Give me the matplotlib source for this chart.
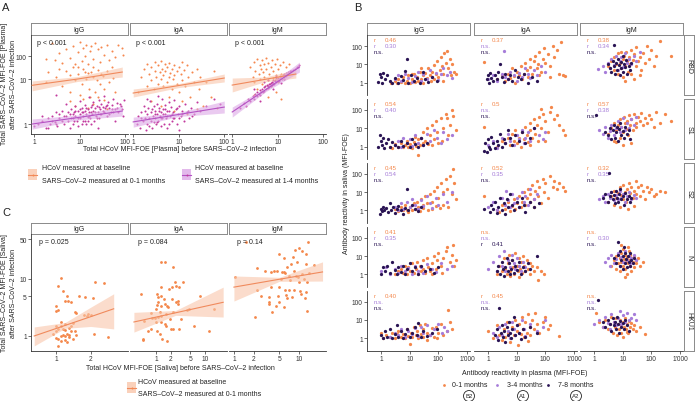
import numpy as np
import matplotlib
matplotlib.use("Agg")
import matplotlib.pyplot as plt
from matplotlib.patches import Rectangle

plt.rcParams['font.family'] = ['Liberation Sans', 'DejaVu Sans']

# ----------------------------------------------------------------- DATA
isotypes = ["IgG", "IgA", "IgM"]
antigens = ["RBD", "S1", "S2", "N", "HKU1"]

# Panel A (plasma): HCoV before (x) vs SARS-CoV-2 after (y)
A_IgG_01 = [(2.5,600),(2.8,60),(1.8,70),(3.5,150),(4,45),(5,250),(6,80),(7,400),(8,40),(9,180),(10,750),(11,55),(12,300),(13,100),(14,500),(15,40),(17,200),(18,400),(20,70),(22,600),(25,250),(28,50),(30,350),(35,120),(40,450),(45,60),(50,200),(60,90),(70,500),(85,300),(90,120),
            (3,12),(4,6),(5,20),(6,4),(7,28),(8,9),(9,15),(10,3.5),(12,25),(14,10),(16,5),(18,18),(20,12),(22,4),(25,22),(28,7),(30,15),(35,5),(40,20),(45,8),(50,30),(55,11),(60,4),(20,30),(15,16),(9,28),(6,14),(11,7),(13,18),(17,3),(24,9),(33,13),(3.5,25),(2,18),(1.8,8),
            (6,2.5),(8,2),(12,2.8),(15,1.8),(20,2.2),(25,3),(35,2.6),(40,1.7)]
A_IgG_14 = [(1.0,0.95),(1.2,1.0),(1.5,1.1),(1.8,0.9),(2,1.2),(2.2,1.0),(2.5,1.3),(2.8,1.05),(3,1.5),(3.2,0.95),(3.5,1.2),(4,1.1),(4,1.6),(4.5,1.0),(5,1.3),(5,2.2),(5.5,1.1),(6,1.4),(6,0.9),(6.5,1.7),(7,1.2),(7,1.0),(7.5,1.5),(8,1.3),(8,2.0),(8.5,1.1),(9,1.6),(9,0.95),(10,1.4),(10,1.2),(10,2.5),(11,1.0),(11,1.8),(12,1.3),(12,1.5),(13,1.1),(13,2.1),(14,1.4),(14,1.0),(15,1.7),(15,1.25),(16,1.5),(16,3.0),(17,1.2),(18,1.9),(18,1.0),(19,1.4),(20,1.6),(20,2.4),(21,1.1),(22,1.8),(23,1.3),(24,2.0),(25,1.5),(26,1.2),(27,2.6),(28,1.7),(30,1.4),(30,2.2),(32,1.9),(35,1.5),(35,3.2),(38,2.0),(40,1.3),(42,2.4),(45,1.8),(48,1.5),(50,2.1),(55,2.8),(60,1.7),(65,2.3),(70,1.5),(80,2.0),(90,1.3),(95,2.6),(3,3.5),(25,0.9),(60,1.1),
            (1.5,1.3),(2,0.9),(2.5,1.1),(3,1.0),(3.5,1.4),(4.5,1.3),(5.5,1.5),(6.5,1.2),(7,1.4),(7.5,1.1),(8,1.6),(9,1.2),(10,1.7),(11,1.5),(12,1.1),(13,1.6),(14,1.8),(15,1.1),(16,1.3),(18,1.5),(19,2.1),(22,1.5),(24,1.2),(26,1.9),(28,1.4),(32,1.6),(36,1.8),(40,2.1),(45,1.4),(50,1.7),(55,1.5),(65,1.8),(75,2.2),(85,1.7)]
A_IgA_01 = [(1.3,4),(1.5,12),(1.7,25),(2,6),(2,40),(2.2,15),(2.5,9),(2.5,30),(2.8,5),(3,20),(3,50),(3.2,12),(3.5,7),(3.5,35),(3.8,18),(4,10),(4,55),(4.2,25),(4.5,6),(4.5,14),(5,40),(5,20),(5.5,8),(5.5,30),(6,12),(6,45),(6.5,17),(7,5),(7,25),(7.5,10),(8,35),(8,14),(9,20),(9,7),(10,30),(10,4),(11,15),(12,50),(12,9),(13,22),(14,6),(15,35),(16,12),(18,3),(20,18),(22,8),(25,25),(28,5),(30,12),(35,2),(40,8),(50,3),(60,20),(70,1.8),(2.5,2.5),(4,2),(6,3),(8,1.6),(12,2.5),(15,1.4),(25,1.7)]
A_IgA_14 = [(1.2,1.0),(1.3,1.3),(1.4,0.9),(1.5,1.5),(1.6,1.1),(1.7,2.0),(1.8,1.2),(1.9,0.85),(2,1.4),(2,1.0),(2.1,1.8),(2.2,1.2),(2.3,2.5),(2.4,1.1),(2.5,1.5),(2.6,0.9),(2.7,1.3),(2.8,2.0),(2.9,1.05),(3,1.6),(3,1.2),(3.2,1.0),(3.3,2.2),(3.4,1.4),(3.5,1.1),(3.6,1.8),(3.8,1.3),(4,0.95),(4,1.5),(4.2,2.8),(4.4,1.2),(4.6,1.7),(4.8,1.0),(5,1.4),(5,2.1),(5.3,1.2),(5.6,1.6),(6,1.0),(6,2.4),(6.4,1.3),(6.8,1.9),(7,1.1),(7.5,1.5),(8,1.2),(8,2.6),(8.5,1.7),(9,1.0),(9.5,1.4),(10,2.0),(10,0.85),(11,1.3),(12,1.6),(13,1.1),(14,2.2),(15,1.5),(17,1.2),(19,1.8),(22,1.4),(25,2.4),(30,1.6),(40,2.0),(60,2.8),(80,2.2),(3.5,3.2),(5.5,0.9),(2,2.8),
            (1.5,1.2),(1.8,1.6),(2.2,0.95),(2.6,1.7),(3,1.4),(3.3,1.05),(3.7,1.6),(4.1,1.2),(4.5,1.4),(5,1.7),(5.5,1.3),(6,1.6),(7,1.4),(7.5,1.2),(9,1.8),(10,1.2),(12,1.4),(16,1.6),(20,1.3)]
A_IgM_01 = [(2.5,30),(2.8,12),(3,50),(3,8),(3.2,20),(3.5,70),(3.5,5),(3.8,15),(4,35),(4,10),(4.2,25),(4.5,60),(4.5,7),(4.8,18),(5,40),(5,12),(5.5,80),(5.5,25),(6,9),(6,45),(6.5,15),(7,30),(7,6),(7.5,60),(8,20),(8,11),(8.5,40),(9,14),(9.5,70),(10,25),(10,8),(11,35),(12,15),(13,50),(14,10),(15,30),(6,3),(9,4),(12,2.8),(3,3.5),(20,18),(18,40)]
A_IgM_14 = [(1.5,1.8),(1.8,2.3),(2,2.0),(2.2,2.8),(2.5,2.5),(2.8,3.2),(3,2.8),(3.2,3.6),(3.5,3.2),(3.5,4.2),(3.8,3.6),(4,4.5),(4,3.4),(4.3,4.0),(4.5,5.0),(4.7,4.2),(5,5.5),(5,4.3),(5.2,6.0),(5.5,5.0),(5.7,6.5),(6,5.2),(6,6.2),(6.3,7.0),(6.5,5.8),(6.8,6.8),(7,7.5),(7,6.0),(7.3,6.5),(7.5,8.2),(7.8,7.0),(8,7.6),(8,9.0),(8.3,6.8),(8.5,8.5),(8.8,9.5),(9,8.0),(9.2,10.5),(9.5,9.0),(10,9.5),(10,11),(10.5,8.5),(11,10),(11,12.5),(11.5,11),(12,12),(12.5,10),(13,13.5),(13.5,12),(14,15),(15,13),(15,16),(16,15),(17,18),(18,17),(19,20),(20,19),(22,22),(24,25),(26,28),(28,30),(30,35),(6,9),(8,4.8),(12,7.5),(5,8),(4,2.5),(9,13),(3,5),(14,10)]

# fitted lines: x, fit, lower, upper
A_fit_IgG_01 = ([0.9, 9, 86], [6.3, 10, 18], [4.4, 8.3, 11.7], [8.6, 12.2, 29])
A_fit_IgG_14 = ([0.9, 9, 86], [1.0, 1.24, 1.59], [0.86, 1.14, 1.31], [1.18, 1.36, 1.97])
A_fit_IgA_01 = ([1, 10, 100], [3.85, 6.2, 10.8], [3.07, 5.4, 8.0], [4.92, 7.1, 15.1])
A_fit_IgA_14 = ([1, 10, 100], [1.07, 1.39, 1.88], [0.91, 1.29, 1.47], [1.26, 1.50, 2.50])
A_fit_IgM_01 = ([1, 5, 25], [6.4, 9.6, 15.1], [4.1, 8.0, 10.8], [10.8, 11.7, 21.7])
A_fit_IgM_14 = ([1, 5.5, 30], [1.53, 4.77, 29], [1.26, 4.21, 18], [1.88, 5.43, 49])
A_pvals = ["p < 0.001", "p < 0.001", "p < 0.001"]

# Panel C (saliva)
C_IgG = [(1.0,1.2),(1.05,0.9),(1.1,1.5),(1.1,1.0),(1.15,1.3),(1.2,0.85),(1.2,1.6),(1.25,1.1),(1.3,1.4),(1.3,0.95),(1.35,1.2),(1.4,1.7),(1.05,1.35),(1.0,0.92),(1.15,1.05),(1.2,1.25),(1.25,0.8),(1.1,1.75),(1.3,1.05),(1.4,0.9),(0.95,1.1),(1.0,1.5),(1.1,0.82),(1.2,1.0),(1.35,1.5),(1.45,1.2),(1.5,1.05),
         (1.0,3.4),(1.05,7.5),(1.1,10.4),(1.15,6.2),(1.2,4.1),(1.28,4.1),(1.35,3.9),(1.45,2.6),(1.6,5),(1.75,2.3),(1.9,2.4),(1.8,4.8),(2.1,4.6),(2.2,8.9),(2.6,8.5),(1.0,2.7),(1.05,2.9),(1.5,2.5),(1.85,2.2),(2.0,2.3),(2.15,1.08),(2.8,0.96),(1.05,0.67),(1.25,5)]
C_IgA = [(0.5,5.5),(0.55,0.89),(0.56,0.85),(0.58,1.83),(1.05,5.5),(1.1,3.9),(1.2,2.6),(1.3,5),(1.45,4.5),(1.7,3.4),(1.95,2),(2.25,2.6),(2.9,7.2),(3.6,8.9),(1.6,1.5),(2.0,1.33),(1.05,1.22),(1.2,1.08),(1.7,0.82),(2.25,1.33),(3.0,1.33),(4.6,3),(2.8,4.1),(1.35,0.89),(1.0,1.76),(0.8,1.33),
         (1.3,19.8),(1.55,20),(2.2,16),(1.3,7.2),(1.1,4.8),(1.85,6.7),(2.5,7.5),(1.05,3.5),(1.0,3.0),(1.25,3.4),(1.5,3.6),(1.8,3.2),(2.1,4.5),(0.85,2.07),(0.95,2.1),(1.1,2.15),(1.3,2.2),(0.78,2.5),(1.25,1.76),(1.5,1.62),(2.4,8.9),(2.1,7.2),(2.6,3.9),(2.8,3.6),(4.2,2.9),(1.6,2.4),(3.3,2.0),(0.7,1.2),(15,3.0),(12,1.2),(6,1.5),(8,5)]
C_IgM = [(13.8,44.7),(10,35),(8.7,32),(11,31),(12.8,27),(4.9,27),(5.9,23),(7.5,18),(9.3,20),(12.8,18),(17,17.6),(2.3,15.6),(3,13.8),(3.7,13.3),(4.1,13.8),(4.6,13.8),(5.5,13.3),(5.8,13.5),(6.0,12.8),(7,11.3),(8.4,13.8),(9,11.3),(9.6,10.8),(11,12.2),(11.9,10),(13.2,8.9),(10,8.9),(1.04,10.8),
         (2.3,6.4),(3.7,7.2),(4.9,7.2),(6.1,6.4),(7,6.4),(8.4,6.4),(10.3,6.2),(12.8,5.9),(2.6,5),(3.5,4.8),(4.7,5),(6.3,5.2),(6.5,4.6),(7.8,4.8),(10.7,5.4),(12.3,4.6),(3.5,3.9),(3.4,3.6),(4.4,3.4),(4.9,3.9),(5.9,3.2),(13.2,2.7),(2.1,2.15),(3.8,2.6),(1.53,44.7),(7.2,9.5),(5.2,10.2),(14.5,12.5),(6.6,16),(8.0,24)]
C_fit_IgG = ([0.65, 1.2, 2.0, 3.16], [1.0, 1.53, 2.18, 3.0], [0.67, 1.36, 1.47, 1.33], [1.44, 1.72, 3.2, 5.5])
C_fit_IgA = ([0.36, 2.5, 23], [1.76, 2.55, 3.9], [1.17, 2.3, 2.15], [2.6, 2.8, 7.2])
C_fit_IgM = ([1, 5, 23], [7.2, 9.9, 13.3], [4.1, 9.1, 9.2], [11.3, 10.7, 20])
C_pvals = ["p = 0.025", "p = 0.084", "p = 0.14"]
C_xlims = [(0.61, 4.2), (0.3, 27.5), (0.84, 26)]
C_xticks = [[1, 2], [1, 2, 5, 10], [1, 2, 5, 10]]

# Panel B: plasma (x) vs saliva (y) at 0-1, 3-4, 7-8 months
rbd_igg_o = [(2.2,1.0),(3,1.2),(3.5,0.9),(4,1.5),(5,1.1),(6,2.0),(7,1.0),(8,1.3),(9,2.5),(10,1.0),(12,1.6),(14,3.0),(15,1.1),(18,2.0),(20,1.2),(22,4.0),(25,1.5),(28,2.5),(30,1.0),(35,3.5),(40,1.8),(45,6),(50,2.5),(55,1.2),(60,4),(70,9),(80,3),(90,15),(100,2),(110,5),(120,25),(130,8),(150,3),(160,40),(180,12),(200,55),(220,6),(250,20),(280,2.5),(300,10),(350,4),(400,3),(70,1.5),(150,1.3),(25,6),(12,3)]
rbd_igg_p = [(3,1.5),(4,2.5),(5,1.2),(7,3),(9,1.8),(12,1.1),(15,2.2),(20,4),(25,1.3),(30,2.8),(40,1.5),(50,5),(60,2),(80,3.5),(100,1.4),(150,6),(200,2.5),(250,4),(300,1.8),(120,2.8)]
rbd_igg_n = [(0.8,1.1),(0.9,3.0),(1.0,2.0),(1.1,1.0),(1.2,3.2),(1.4,1.5),(1.6,2.5),(2,1.2),(2.5,0.9),(3,1.8),(4,1.0),(5,2.2),(6,1.4),(8,20),(9,1.0),(11,2.5),(14,1.2),(18,1.8),(22,1.0),(28,4),(35,1.5),(45,1.1),(60,2.0),(90,1.2),(7,4.2)]
rbd_iga_o = [(0.75,13),(2,1.5),(3,2.5),(4,1.2),(5,3),(6,1.8),(7,6),(8,2.2),(9,1.0),(10,4),(12,2.5),(14,8),(15,1.5),(18,3),(20,12),(22,5),(25,2),(28,20),(30,7),(35,3),(40,15),(45,30),(50,6),(55,10),(60,50),(70,4),(80,20),(90,80),(100,12),(120,35),(150,8),(180,100),(200,25),(250,60),(300,3),(350,170),(400,2.5),(500,2.2),(150,2),(60,2.5)]
rbd_iga_p = [(1.0,1.5),(1.5,2.5),(2,1.2),(3,3),(3.6,54),(4,2),(5,1.5),(6,4),(8,2.5),(10,1.3),(12,3.5),(15,2),(20,6),(25,3),(30,1.8),(40,5),(50,2.5),(70,8),(100,4)]
rbd_iga_n = [(0.9,1.5),(1.0,2.5),(1.1,1.0),(1.2,3.5),(1.3,1.8),(1.5,1.2),(1.7,2.5),(2,1.5),(2.3,4),(2.6,10),(3,2),(3.5,1.1),(4,3),(5,1.5),(6,2.5),(7,1.2),(9,5),(11,2),(14,1.5),(18,3),(25,1.0),(35,2),(50,1.3)]
rbd_igm_o = [(3,8),(4,15),(5,5),(5,25),(6,10),(7,3),(7,40),(8,12),(9,6),(10,20),(10,2),(11,30),(12,8),(13,50),(14,15),(15,4),(16,25),(18,10),(20,60),(20,3),(22,18),(25,35),(28,8),(30,90),(35,15),(40,25),(45,5),(50,40),(60,12),(70,100),(80,20),(100,60),(120,8),(150,30),(200,185),(480,29),(25,1.5),(12,1.2),(40,2.5),(9,45)]
rbd_igm_p = [(1.4,5.7),(2,8),(2.5,4),(3,12),(3.5,6),(4,20),(5,9),(6,30),(7,5),(8,15),(9,25),(10,7),(12,40),(14,12),(16,20),(20,10),(25,30),(30,15),(40,50)]
rbd_igm_n = [(3,10),(3.5,6),(4,4),(4.5,15),(5,113),(5,8),(5.5,3),(6,12),(6.5,5),(7,20),(7.5,9),(8,2.5),(8.5,14),(9,6),(10,30),(10,4),(11,10),(12,7),(13,18),(14,3),(16,8),(18,5),(20,12)]

s1_igg_o = [(2,1.0),(2.5,0.8),(3,1.3),(4,1.0),(5,1.6),(6,0.9),(7,1.2),(8,2.0),(9,1.0),(10,1.4),(12,0.8),(14,1.8),(16,1.1),(19,0.33),(20,2.5),(22,1.2),(25,3),(28,1.5),(30,6),(35,2),(40,10),(45,1.4),(50,4),(60,15),(70,2.5),(80,25),(90,6),(100,1.5),(120,35),(150,10),(180,60),(200,37),(220,4),(250,15),(300,100),(320,47),(400,8),(60,1.2),(130,2),(15,3.5)]
s1_igg_p = [(3,1.2),(4,2),(5,1.0),(6,3),(8,1.5),(10,2.5),(12,1.1),(15,4),(20,1.6),(25,2.8),(30,1.2),(40,5),(50,2),(70,8),(90,3),(120,1.5),(150,6),(200,2.5),(300,4)]
s1_igg_n = [(0.8,1.0),(0.9,4.0),(1.0,2.0),(1.1,1.2),(1.2,3),(1.3,0.8),(1.5,1.5),(1.7,2.5),(2,1.0),(2.5,1.8),(3,1.2),(4,0.9),(5,2),(6,1.1),(8,1.5),(10,1.0),(12,2.5),(15,1.3),(20,1.0),(25,3),(30,1.2),(40,1.6)]
s1_iga_o = [(0.75,12),(2,1.0),(3,2),(4,1.5),(5,3),(6,1.2),(7,5),(8,2),(9,8),(10,1.5),(12,3),(14,1.0),(15,6),(18,2.5),(20,12),(22,4),(25,1.8),(28,20),(30,8),(35,3),(40,30),(45,5),(50,15),(55,2),(60,40),(70,10),(80,60),(100,25),(120,6),(150,80),(160,145),(70,113),(200,30),(250,50),(300,15),(400,8),(500,4),(30,1.2),(100,2)]
s1_iga_p = [(1,1.2),(1.5,2),(2,0.8),(3,3),(4,1.5),(5,5),(6,2),(8,1.2),(10,4),(12,2.5),(15,8),(18,1.5),(20,3),(25,6),(30,2),(40,10),(60,4),(80,2.5),(100,6)]
s1_iga_n = [(0.7,0.6),(0.8,1.5),(0.9,0.5),(1.0,2.5),(1.1,1.0),(1.2,0.7),(1.3,3.5),(1.5,1.5),(1.7,0.8),(2,2),(2.3,1.2),(2.7,5),(3,0.9),(3.5,2.5),(4,1.5),(5,8),(6,3),(7,1.2),(9,4),(12,2),(15,6),(20,1.5),(30,3),(40,10)]
s1_igm_o = [(3,5),(4,10),(5,2),(5,20),(6,8),(7,15),(8,3),(8,30),(9,12),(10,6),(11,40),(12,20),(13,9),(14,25),(15,4),(16,50),(18,15),(20,30),(22,8),(25,60),(28,20),(30,12),(35,40),(40,25),(45,70),(50,15),(60,35),(70,20),(80,50),(100,30),(120,12),(150,80),(200,20),(300,60),(500,25),(20,1.5),(10,1.2),(6,1.8)]
s1_igm_p = [(1.5,8),(2,5),(2.5,12),(3,3),(3.5,7),(4,15),(5,4),(6,10),(7,25),(8,6),(9,12),(10,35),(12,8),(14,20),(16,10),(20,30),(25,15),(30,40)]
s1_igm_n = [(1.2,54),(2.5,6),(3,4),(3.5,10),(4,2.5),(4.5,8),(5,15),(5.5,3),(6,6),(6.5,12),(7,2),(7.5,9),(8,20),(9,4),(10,7),(11,3),(12,12),(14,5),(16,8),(18,2.5)]

s2_igg_o = [(3,1.2),(4,0.9),(5,1.5),(6,1.0),(7,2),(8,1.1),(9,0.8),(10,1.6),(12,1.0),(14,2.5),(16,1.2),(18,3),(20,1.5),(22,0.9),(25,4),(28,2),(30,1.3),(35,6),(40,2.5),(45,1.1),(50,8),(60,3),(70,12),(80,1.8),(90,20),(100,5),(120,30),(140,2),(150,10),(180,50),(200,15),(250,80),(300,8),(320,186),(350,30),(400,4),(60,1.2),(220,1.5),(110,1.3)]
s2_igg_p = [(3,1.5),(4,1.0),(5,2.5),(6,1.2),(8,3),(10,1.5),(12,4),(15,2),(20,1.2),(25,3.5),(30,1.8),(40,6),(50,2.5),(60,1.3),(80,5),(100,2),(150,8),(200,3),(300,10)]
s2_igg_n = [(0.9,0.6),(1.0,1.2),(1.1,0.9),(1.2,1.6),(1.3,1.0),(1.5,1.4),(1.7,0.8),(2,2.5),(2.3,1.1),(2.7,1.5),(3,0.7),(3.5,1.2),(4,1.8),(5,1.0),(6,0.6),(7,1.4),(8,15),(9,1.0),(12,2),(15,1.2),(20,0.9),(25,1.5)]
s2_iga_o = [(0.75,6),(2,1.0),(2.5,0.8),(3,2),(4,1.2),(5,3),(6,0.9),(7,1.8),(8,4),(9,1.2),(10,2.5),(12,6),(14,1.5),(15,3),(18,10),(20,2),(22,5),(25,15),(28,3),(30,8),(35,25),(40,4),(45,12),(50,40),(55,6),(60,20),(70,2.5),(80,50),(90,10),(100,30),(120,5),(150,80),(180,20),(200,40),(250,15),(300,30),(400,20),(500,12),(40,1.5)]
s2_iga_p = [(1,1.5),(1.5,3),(2,1.0),(3,5),(4,2),(4.2,12),(5,3.5),(6,1.5),(7,8),(8,2.5),(10,5),(12,1.5),(15,10),(18,3),(20,6),(25,2),(30,15),(40,4),(50,8)]
s2_iga_n = [(0.7,1.2),(1.2,0.8),(1.3,2),(1.5,1.2),(1.7,3),(2,0.7),(2.3,1.5),(2.6,5),(3,1.0),(3.5,2.5),(4,0.6),(4.5,4),(5,1.5),(6,8),(7,2),(8,1.1),(10,3),(12,1.5),(15,5),(18,2),(20,0.8),(30,3),(40,1.5),(60,2.5)]
s2_igm_o = [(3,3),(4,6),(5,2),(5,12),(6,5),(7,9),(8,1.5),(8,18),(9,7),(10,4),(10,25),(12,10),(13,3),(14,15),(15,6),(16,30),(18,9),(20,20),(22,5),(25,12),(28,40),(30,8),(35,18),(40,6),(45,25),(50,12),(60,4),(70,20),(80,10),(100,15),(120,6),(150,8),(200,12),(300,10),(15,1.2),(25,1.8)]
s2_igm_p = [(1.5,4),(2,6),(2.5,3),(3,8),(3.5,5),(4,10),(5,3.5),(6,7),(7,4),(8,12),(9,5),(10,8),(12,3),(14,6),(16,10),(20,4),(25,7),(30,5)]
s2_igm_n = [(2,5),(2.5,8),(3,3),(3.3,110),(3.5,6),(4,10),(4.5,4),(5,7),(5.5,2.5),(6,12),(6.5,5),(7,3),(7.5,8),(8,15),(9,4),(10,6),(11,2),(12,9),(14,4),(16,6),(18,3),(20,5)]

n_igg_o = [(3,1.0),(4,1.5),(5,2),(6,1.2),(7,3),(8,1.0),(9,2.5),(10,1.5),(12,4),(14,1.2),(16,2),(18,5),(20,1.0),(22,3),(25,1.5),(28,6),(30,2),(35,1.2),(40,8),(45,2.5),(50,1.5),(60,4),(70,10),(80,2),(90,6),(100,15),(120,3),(150,8),(180,20),(200,33),(250,5),(300,12),(320,42),(350,3),(400,6),(130,1.2),(60,1.1)]
n_igg_p = [(1,1.5),(1.5,2.5),(2,1.0),(3,2),(4,1.2),(5,3),(7,1.5),(9,2.2),(12,1.0),(15,3),(20,1.5),(25,2.5),(30,1.2),(40,3.5),(60,2),(80,1.3),(120,4),(200,2),(300,3)]
n_igg_n = [(1,1.0),(1.2,2.5),(1.4,1.5),(1.6,3),(2,1.2),(2.5,5),(3,1.8),(3.5,1.0),(4,2.5),(5,1.3),(6,3),(7,1.1),(8,2),(10,4),(12,1.5),(15,2.5),(20,1.0),(25,3),(35,1.5),(50,2),(70,1.2),(100,2.5)]
n_iga_o = [(2,1.0),(2.5,3),(3,1.5),(3.5,8),(4,2),(4.5,1.0),(5,4),(5.5,12),(6,1.5),(7,6),(7.5,2.5),(8,1.0),(9,15),(10,3),(11,1.5),(12,8),(13,2),(14,5),(15,1.2),(16,10),(18,3),(20,1.5),(22,6),(25,2),(28,4),(30,1.0),(35,3),(40,1.5),(50,2.5),(57,0.5),(70,1.5),(90,1.1),(12,0.7),(6,0.8)]
n_iga_p = [(1,2),(1.5,5),(2,1.5),(2.5,10),(3,3),(3.5,20),(4,1.5),(5,6),(6,2.5),(7,12),(8,4),(9,2),(10,8),(12,3),(14,1.5),(16,5),(20,2.5)]
n_iga_n = [(2,1.5),(2.3,3),(2.6,1.0),(3,5),(3.3,2),(3.6,0.8),(4,2.5),(4.5,8),(5,1.5),(5.5,4),(6,1.0),(6.5,2),(7,6),(8,1.2),(9,3),(10,1.8),(12,5),(14,1.0),(16,2.5),(20,1.5),(25,4),(30,2),(50,10.6)]
n_igm_o = [(4,3),(5,6),(6,2),(6,10),(7,4),(8,8),(8,1.5),(9,5),(9,15),(10,3),(10,25),(11,7),(12,2),(12,12),(13,5),(14,9),(14,1.0),(15,4),(16,20),(17,6),(18,3),(18,12),(20,8),(20,1.5),(22,5),(25,10),(25,2.5),(28,6),(30,4),(35,8),(40,3),(50,5),(12,0.7),(15,30),(9,40)]
n_igm_p = [(2.5,5),(3,8),(3.5,3),(4,12),(5,4),(6,7),(7,15),(8,3),(9,9),(10,5),(12,20),(14,6),(16,10),(18,4),(20,8),(25,12),(30,6)]
n_igm_n = [(5,8),(6,4),(7,60),(7,12),(8,3),(8,20),(9,6),(10,2),(10,10),(11,30),(12,4),(12,15),(13,7),(14,2.5),(15,10),(16,5),(18,3),(18,15),(20,6),(22,4),(25,8)]

hku1_igg_o = [(1,2),(1.2,1.0),(1.5,1.5),(2,1.2),(2.5,2),(3,1.0),(3.5,1.6),(4,2.5),(5,1.2),(6,1.8),(7,1.0),(8,3),(9,1.4),(10,0.47),(11,2),(12,1.2),(14,4),(16,1.5),(18,2.5),(20,1.0),(22,5),(25,1.8),(28,3),(30,1.2),(35,6),(40,2),(50,1.5),(60,3.5),(70,1.2),(80,4),(100,2),(120,6),(150,1.5),(200,2.5),(215,33),(250,8),(300,3),(40,0.8),(90,1.0)]
hku1_igg_p = [(2,1.2),(3,2),(4,1.5),(5,3),(7,1.2),(9,2.5),(12,1.8),(15,3.5),(20,1.3),(25,4),(30,2),(40,5),(50,1.5),(70,3),(100,6),(130,2),(160,4),(200,2.5)]
hku1_igg_n = [(1,1.5),(1.2,1.0),(1.4,2.5),(1.6,1.2),(2,3),(2.5,1.0),(3,1.8),(3.5,5.5),(4,1.2),(5,2.5),(6,1.0),(7,1.6),(8,3),(10,1.2),(12,2),(15,4),(18,1.5),(20,7),(25,1.1),(30,2.5),(40,1.3),(60,2),(90,3)]
hku1_iga_o = [(1,2.5),(1.5,1.0),(2,5),(2.5,1.5),(3,0.8),(3.5,3),(4,1.2),(4.5,8),(5,2),(6,0.6),(7,4),(8,1.5),(9,10),(10,2.5),(11,0.4),(12,6),(14,1.8),(15,15),(16,3),(18,1.2),(20,8),(22,2),(25,20),(28,4),(30,1.5),(35,10),(40,3),(45,25),(50,6),(60,2),(80,8),(100,15),(120,3),(150,5),(300,1.3),(25,0.7)]
hku1_iga_p = [(1.5,2),(2,1.2),(2.5,4),(3,1.5),(4,6),(5,2.5),(6,1.0),(7,8),(8,3),(9,1.5),(10,5),(12,2),(15,10),(18,3),(20,1.3),(30,6),(50,2.5),(80,4),(100,10)]
hku1_iga_n = [(1.8,1.5),(2,3),(2.2,0.8),(2.5,47),(2.8,2),(3,5),(3.3,1.2),(3.6,2.5),(4,0.6),(4.5,4),(5,1.5),(5.5,8),(6,2),(6.5,1.0),(7,3),(8,15),(9,1.5),(10,5),(12,2),(14,0.9),(16,3),(20,1.2),(30,4),(50,2)]
hku1_igm_o = [(1.2,25),(1.5,8),(2,4),(2.5,10),(3,3),(3.5,6),(4,15),(4.5,2),(5,8),(5.5,4),(6,12),(6.5,1.5),(7,6),(7.5,3),(8,10),(9,2),(9,5),(10,8),(10,1.2),(11,4),(12,12),(13,3),(14,6),(15,2),(16,9),(18,4),(20,7),(22,3),(25,5),(30,2.5),(40,4),(14,2.1),(60,1.6)]
hku1_igm_p = [(1,6),(1.5,10),(2,4),(2.5,15),(3,7),(3.5,3),(4,20),(5,8),(6,5),(7,12),(8,30),(9,6),(10,18),(12,8),(14,25),(16,10),(20,12),(25,20),(30,10)]
hku1_igm_n = [(1.4,120),(2,8),(2.5,4),(3,10),(3.5,6),(4,2.5),(4.5,12),(5,5),(5.5,8),(6,3),(6.5,15),(7,6),(7.5,2),(8,9),(9,4),(10,7),(11,3),(12,10),(14,5),(16,2.5)]

# correlation labels per antigen row, per isotype: (0-1 m, 3-4 m, 7-8 m); None = n.s.
r_RBD = [("0.46", "0.30", None), ("0.37", None, None), ("0.38", "0.34", None)]
r_S1 = [("0.54", "0.40", None), ("0.5", None, None), ("0.57", "0.38", None)]
r_S2 = [("0.45", "0.54", None), ("0.52", "0.35", None), ("0.32", "0.35", None)]
r_N = [("0.41", "0.35", None), (None, None, "0.41"), (None, "0.30", None)]
r_HKU1 = [("0.40", None, None), ("0.45", None, None), (None, None, None)]

timepoints = ["0-1 months", "3-4 months", "7-8 months"]
cohorts = ["B2", "A1", "A2"]

# ---------------------------------------------------------------- STYLE
W, H = 695, 402
fig = plt.figure(figsize=(W / 100, H / 100), dpi=100)
FS = 5.0
TFS = 4.8
TXT = "#222222"
AX = "#333333"
OR = "#F4874B"
PU = "#A67CD9"
NV = "#2A1454"
A_OR_PT, A_OR_LN, A_OR_RB = "#F5884F", "#F08A5D", "#F9C6AA"
A_PU_PT, A_PU_LN, A_PU_RB = "#C23A9E", "#B553C4", "#DDA8E6"


def rect(x0, y0, x1, y1):
    return [x0 / W, 1 - y1 / H, (x1 - x0) / W, (y1 - y0) / H]


def style(ax, left=True, bottom=True):
    for s in ("top", "right"):
        ax.spines[s].set_visible(False)
    for s in ("left", "bottom"):
        ax.spines[s].set_color(AX)
        ax.spines[s].set_linewidth(0.6)
    ax.spines["left"].set_visible(left)
    ax.spines["bottom"].set_visible(bottom)
    ax.tick_params(length=2, width=0.5, pad=1, labelsize=TFS, colors=AX)
    ax.tick_params(axis="y", left=left, labelleft=left)
    ax.tick_params(axis="x", bottom=bottom, labelbottom=bottom)
    ax.set_facecolor("none")
    ax.minorticks_off()


def set_ticks(axis, vals, labels):
    axis.set_ticks(vals)
    axis.set_ticklabels(labels)
    axis.set_minor_locator(matplotlib.ticker.NullLocator())


def strip(x0, y0, x1, y1, label, rot=0):
    s = fig.add_axes(rect(x0, y0, x1, y1))
    s.set_xticks([]); s.set_yticks([])
    s.set_facecolor("white")
    for sp in s.spines.values():
        sp.set_color("#8a8a8a"); sp.set_linewidth(0.7)
    s.text(0.5, 0.5, label, ha="center", va="center", fontsize=FS, color=TXT,
           rotation=rot, transform=s.transAxes)


def xy(pts):
    a = np.array(pts, float)
    return a[:, 0], a[:, 1]


def a_fwd(y):
    y = np.asarray(y, float)
    v = np.log10(np.clip(y, 1e-9, None)) + 0.66
    return np.log(np.clip(v, 1e-6, None))


def a_inv(t):
    return 10 ** (np.exp(t) - 0.66)


# ---------------------------------------------------------------- PANEL A
A_cols = [(31, 128), (130, 227), (229, 326)]
A_pts = [(A_IgG_01, A_IgG_14), (A_IgA_01, A_IgA_14), (A_IgM_01, A_IgM_14)]
A_fits = [(A_fit_IgG_01, A_fit_IgG_14), (A_fit_IgA_01, A_fit_IgA_14), (A_fit_IgM_01, A_fit_IgM_14)]
for i, (x0, x1) in enumerate(A_cols):
    strip(x0, 24, x1, 36, isotypes[i])
    ax = fig.add_axes(rect(x0, 36, x1, 135))
    ax.set_xscale("log")
    ax.set_yscale("function", functions=(a_fwd, a_inv))
    ax.set_xlim(0.85, 115)
    ax.set_ylim(0.755, 2700)
    o, p = A_pts[i]
    ax.scatter(*xy(o), s=2.2, color=A_OR_PT, linewidths=0, zorder=2)
    ax.scatter(*xy(p), s=2.2, color=A_PU_PT, linewidths=0, zorder=2)
    for fit, lc, rc in ((A_fits[i][0], A_OR_LN, A_OR_RB), (A_fits[i][1], A_PU_LN, A_PU_RB)):
        fx, fm, flo, fhi = fit
        ax.fill_between(fx, flo, fhi, color=rc, alpha=0.6, lw=0, zorder=3)
        ax.plot(fx, fm, color=lc, lw=0.8, zorder=4)
    style(ax, left=(i == 0), bottom=True)
    set_ticks(ax.xaxis, [1, 10, 100], ["1", "10", "100"])
    set_ticks(ax.yaxis, [1, 10, 100], ["1", "10", "100"])
    ax.text(0.06, 0.92, A_pvals[i], transform=ax.transAxes, fontsize=FS, color=TXT, va="center")

# ---------------------------------------------------------------- PANEL C
C_cols = [(31, 128), (130, 227), (229, 326)]
C_pts = [C_IgG, C_IgA, C_IgM]
C_fits = [C_fit_IgG, C_fit_IgA, C_fit_IgM]
for i, (x0, x1) in enumerate(C_cols):
    strip(x0, 224, x1, 235, isotypes[i])
    ax = fig.add_axes(rect(x0, 235, x1, 352))
    ax.set_xscale("log"); ax.set_yscale("log")
    ax.set_xlim(*C_xlims[i]); ax.set_ylim(0.545, 61.6)
    ax.scatter(*xy(C_pts[i]), s=4, color=OR, linewidths=0, zorder=2)
    fx, fm, flo, fhi = C_fits[i]
    ax.fill_between(fx, flo, fhi, color=A_OR_RB, alpha=0.6, lw=0, zorder=3)
    ax.plot(fx, fm, color=A_OR_LN, lw=0.8, zorder=4)
    style(ax, left=(i == 0), bottom=True)
    set_ticks(ax.xaxis, C_xticks[i], [str(v) for v in C_xticks[i]])
    set_ticks(ax.yaxis, [1, 5, 10, 50], ["1", "5", "10", "50"])
    ax.text(0.085, 0.935, C_pvals[i], transform=ax.transAxes, fontsize=FS, color=TXT, va="center")

# ---------------------------------------------------------------- PANEL B
B_data = {
    "RBD": [(rbd_igg_o, rbd_igg_p, rbd_igg_n), (rbd_iga_o, rbd_iga_p, rbd_iga_n), (rbd_igm_o, rbd_igm_p, rbd_igm_n)],
    "S1": [(s1_igg_o, s1_igg_p, s1_igg_n), (s1_iga_o, s1_iga_p, s1_iga_n), (s1_igm_o, s1_igm_p, s1_igm_n)],
    "S2": [(s2_igg_o, s2_igg_p, s2_igg_n), (s2_iga_o, s2_iga_p, s2_iga_n), (s2_igm_o, s2_igm_p, s2_igm_n)],
    "N": [(n_igg_o, n_igg_p, n_igg_n), (n_iga_o, n_iga_p, n_iga_n), (n_igm_o, n_igm_p, n_igm_n)],
    "HKU1": [(hku1_igg_o, hku1_igg_p, hku1_igg_n), (hku1_iga_o, hku1_iga_p, hku1_iga_n), (hku1_igm_o, hku1_igm_p, hku1_igm_n)],
}
B_r = {"RBD": r_RBD, "S1": r_S1, "S2": r_S2, "N": r_N, "HKU1": r_HKU1}
B_cols = [(367, 470), (474, 577), (580, 683)]
row_h, gap = 60.4, 3.5
B_rows = [(36 + k * (row_h + gap), 36 + k * (row_h + gap) + row_h) for k in range(5)]
grp_colors = [OR, PU, NV]
for r, ag in enumerate(antigens):
    y0, y1 = B_rows[r]
    strip(684, y0, 694, y1, ag, rot=-90)
    for c, (x0, x1) in enumerate(B_cols):
        if r == 0:
            strip(x0, 24, x1, 36, isotypes[c])
        ax = fig.add_axes(rect(x0, y0, x1, y1))
        ax.set_xscale("log"); ax.set_yscale("log")
        ax.set_xlim(0.324, 1260); ax.set_ylim(0.2, 400)
        for g, pts in enumerate(B_data[ag][c]):
            ax.scatter(*xy(pts), s=5.5, color=grp_colors[g], linewidths=0, zorder=2 + g)
        style(ax, left=(c == 0), bottom=(r == 4))
        set_ticks(ax.xaxis, [1, 10, 100, 1000], ["1", "10", "100", "1'000"])
        set_ticks(ax.yaxis, [1, 10, 100], ["1", "10", "100"])
        for g, val in enumerate(B_r[ag][c]):
            yy = 1 - (5 + 6 * g) / row_h
            if val is None:
                ax.text(7 / 103, yy, "n.s.", transform=ax.transAxes, fontsize=4.4,
                        color=grp_colors[g], va="center")
            else:
                ax.text(7 / 103, yy, "r", transform=ax.transAxes, fontsize=4.4,
                        color=grp_colors[g], va="center")
                ax.text(18 / 103, yy, val, transform=ax.transAxes, fontsize=4.4,
                        color=grp_colors[g], va="center")

# ---------------------------------------------------------------- TEXT / LEGENDS
ov = fig.add_axes([0, 0, 1, 1])
ov.set_xlim(0, W); ov.set_ylim(H, 0); ov.axis("off")

ov.text(2, 8, "A", fontsize=8, color=TXT, va="center")
ov.text(354, 8, "B", fontsize=8, color=TXT, va="center")
ov.text(2, 213, "C", fontsize=8, color=TXT, va="center")

ov.text(9, 84, "Total SARS\u2013CoV\u20132 MFI-FOE [Plasma]\nafter SARS\u2013CoV\u20132 infection",
        rotation=90, ha="center", va="center", fontsize=FS, color=TXT, linespacing=1.3)
ov.text(180, 150, "Total HCoV MFI-FOE [Plasma] before SARS\u2013CoV\u20132 infection",
        ha="center", va="center", fontsize=FS, color=TXT)
ov.text(9, 293, "Total SARS\u2013CoV\u20132 MFI-FOE [Saliva]\nafter SARS\u2013CoV\u20132 infection",
        rotation=90, ha="center", va="center", fontsize=FS, color=TXT, linespacing=1.3)
ov.text(180, 369, "Total HCoV MFI-FOE [Saliva] before SARS\u2013CoV\u20132 infection",
        ha="center", va="center", fontsize=FS, color=TXT)
ov.text(347, 194, "Antibody reactivity in saliva (MFI-FOE)", rotation=90,
        ha="center", va="center", fontsize=FS, color=TXT)
ov.text(525, 374, "Antibody reactivity in plasma (MFI-FOE)",
        ha="center", va="center", fontsize=FS, color=TXT)


def key(x, y, fill, line, pt):
    ov.add_patch(Rectangle((x, y), 9, 11, facecolor=fill, edgecolor="none", alpha=0.8))
    ov.plot([x, x + 9], [y + 5.5, y + 5.5], color=line, lw=0.8)
    ov.scatter([x + 4.5], [y + 5.5], s=2, color=pt, linewidths=0, zorder=5)


key(28, 170, A_OR_RB, A_OR_LN, A_OR_PT)
ov.text(42, 169, "HCoV measured at baseline", fontsize=FS, color=TXT, va="center")
ov.text(42, 182, "SARS\u2013CoV\u20132 measured at 0-1 months", fontsize=FS, color=TXT, va="center")
key(182, 170, A_PU_RB, A_PU_LN, A_PU_PT)
ov.text(195, 169, "HCoV measured at baseline", fontsize=FS, color=TXT, va="center")
ov.text(195, 182, "SARS\u2013CoV\u20132 measured at 1-4 months", fontsize=FS, color=TXT, va="center")

key(127, 383, A_OR_RB, A_OR_LN, A_OR_PT)
ov.text(138, 383, "HCoV measured at baseline", fontsize=FS, color=TXT, va="center")
ov.text(138, 395, "SARS\u2013CoV\u20132 measured at 0-1 months", fontsize=FS, color=TXT, va="center")

for (dx, tx), lab, col in zip([(444, 452), (497, 507), (548, 558)], timepoints, grp_colors):
    ov.scatter([dx], [386], s=4, color=col, linewidths=0)
    ov.text(tx, 386, lab, fontsize=FS, color=TXT, va="center")
for cx, lab in zip([469, 523, 576], cohorts):
    ov.text(cx, 397, lab, ha="center", va="center", fontsize=4.3, color=TXT,
            bbox=dict(boxstyle="circle,pad=0.3", fc="white", ec="#222222", lw=0.6))

fig.savefig("out.png", dpi=100)
